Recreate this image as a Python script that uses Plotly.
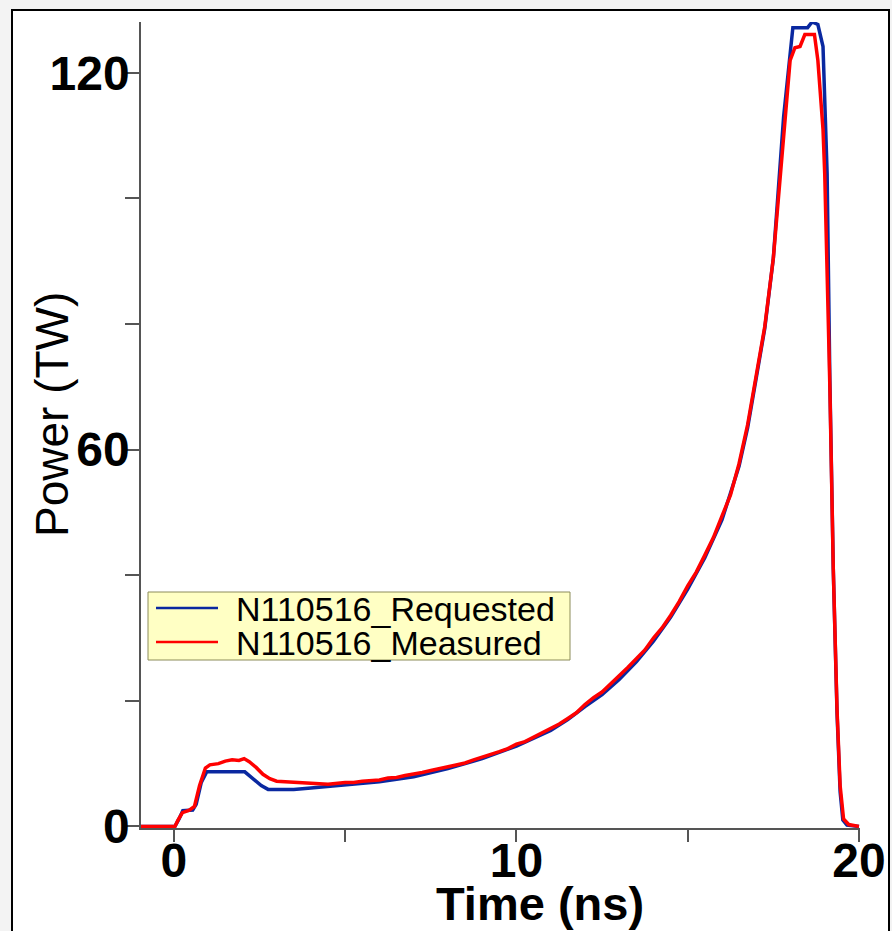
import plotly.graph_objects as go

# Requested pulse (TW vs ns)
req_t = [-1.0, 0.03, 0.15, 0.26, 0.55, 0.65, 0.8, 0.96, 2.07, 2.3, 2.55, 2.75, 3.5,
         4.0, 5.0, 6.0, 7.0, 8.0, 9.0, 10.0, 11.0, 11.5, 12.0, 12.5, 13.0, 13.5, 14.0,
         14.5, 15.0, 15.5, 16.0, 16.5, 16.75, 17.0, 17.25, 17.5, 17.8, 18.07, 18.5,
         18.63, 18.8, 18.95, 19.07, 19.15, 19.25, 19.36, 19.45, 19.53, 19.65, 20.0]
req_p = [0.0, 0.0, 1.2, 2.5, 2.6, 3.5, 7.0, 8.7, 8.7, 7.6, 6.5, 5.9, 5.9,
         6.1, 6.6, 7.1, 7.9, 9.2, 10.8, 12.8, 15.3, 17.0, 19.1, 21.0, 23.4, 26.2, 29.5,
         33.3, 37.8, 42.8, 48.8, 57.4, 63.5, 71.5, 79.3, 90.5, 113.0, 127.2, 127.2,
         128.1, 127.7, 124.2, 104.0, 71.0, 41.0, 18.0, 5.5, 1.0, 0.2, 0.0]

# Measured pulse (TW vs ns)
meas_t = [-1.0, 0.03, 0.12, 0.25, 0.45, 0.6, 0.75, 0.92, 1.05, 1.3, 1.5, 1.7, 1.9,
          2.05, 2.2, 2.4, 2.6, 2.8, 3.0, 3.5, 4.0, 4.5, 5.0, 5.25, 5.5, 5.75, 6.0,
          6.25, 6.5, 6.75, 7.0, 7.25, 7.5, 7.75, 8.0, 8.25, 8.5, 8.75, 9.0, 9.25,
          9.5, 9.75, 10.0, 10.25, 10.5, 10.75, 11.0, 11.25, 11.5, 11.75, 12.0, 12.25,
          12.5, 12.75, 13.0, 13.25, 13.5, 13.75, 14.0, 14.25, 14.5, 14.75, 15.0,
          15.25, 15.5, 15.75, 16.0, 16.25, 16.5, 16.75, 17.0, 17.25, 17.5, 17.75,
          17.99, 18.13, 18.28, 18.42, 18.7, 18.8, 18.95, 19.0, 19.15, 19.25, 19.36,
          19.45, 19.55, 19.7, 20.0]
meas_p = [0.0, 0.0, 1.0, 2.2, 2.6, 3.2, 6.5, 9.3, 9.8, 10.0, 10.4, 10.6, 10.5,
          10.8, 10.3, 9.4, 8.3, 7.6, 7.2, 7.0, 6.8, 6.7, 7.0, 7.0, 7.2, 7.3, 7.4,
          7.7, 7.8, 8.1, 8.3, 8.6, 8.9, 9.2, 9.5, 9.9, 10.1, 10.6, 11.0, 11.4,
          11.9, 12.4, 13.1, 13.5, 14.2, 14.8, 15.6, 16.3, 17.2, 18.1, 19.4, 20.5,
          21.4, 22.7, 23.9, 25.3, 26.7, 28.1, 30.0, 31.6, 33.6, 35.8, 38.3,
          40.5, 43.2, 46.0, 49.4, 52.8, 57.8, 64.0, 71.8, 79.6, 90.5, 107.0,
          122.0, 124.0, 124.2, 126.1, 126.1, 122.0, 111.0, 104.0, 70.0, 41.0, 18.5,
          6.5, 1.2, 0.3, 0.0]

series_names = ["N110516_Requested", "N110516_Measured"]
series_colors = ["rgb(10,40,160)", "#ff0000"]

x_tickvals = [0, 5, 10, 15, 20]
x_ticktext = ["0", "", "10", "", "20"]
y_tickvals = [0, 20, 40, 60, 80, 100, 120]
y_ticktext = ["0", "", "", "60", "", "", "120"]

W, H = 892, 931
L, R, T, B = 141, 32, 22, 103
pw, ph = W - L - R, H - T - B

def px(xp):
    return (xp - L) / pw

def py(yp):
    return (H - B - yp) / ph

fig = go.Figure()
fig.add_trace(go.Scatter(x=req_t, y=req_p, mode="lines", name=series_names[0],
                         line=dict(color=series_colors[0], width=3.5)))
fig.add_trace(go.Scatter(x=meas_t, y=meas_p, mode="lines", name=series_names[1],
                         line=dict(color=series_colors[1], width=3.5)))

axis_font = dict(family="Liberation Sans, Arial", size=48, color="black", weight="bold")
fig.update_xaxes(range=[-0.96, 20.03], tickvals=x_tickvals, ticktext=x_ticktext,
                 ticks="outside", ticklen=12, tickcolor="#555", tickwidth=1.5,
                 showline=True, linecolor="#555", linewidth=1.5, showgrid=False,
                 zeroline=False, tickfont=axis_font, automargin=False,
                 ticklabelstandoff=-22)
fig.update_yaxes(range=[-0.25, 128.1], tickvals=y_tickvals, ticktext=y_ticktext,
                 ticks="outside", ticklen=14, tickcolor="#555", tickwidth=1.5,
                 showline=True, linecolor="#555", linewidth=1.5, showgrid=False,
                 zeroline=False, tickfont=axis_font, automargin=False,
                 ticklabelstandoff=-14)

# page frame
fig.add_shape(type="rect", xref="paper", yref="paper",
              x0=px(12), x1=px(889), y0=py(960), y1=py(10),
              fillcolor="white", line=dict(color="black", width=2), layer="below")

# legend box
fig.add_shape(type="rect", xref="paper", yref="paper",
              x0=px(148), x1=px(570), y0=py(660), y1=py(592),
              fillcolor="#ffffc4", line=dict(color="#8c8c5a", width=1), layer="above")
for i, (nm, col) in enumerate(zip(series_names, series_colors)):
    yy = 608 + i * 34
    fig.add_shape(type="line", xref="paper", yref="paper",
                  x0=px(156), x1=px(218), y0=py(yy), y1=py(yy),
                  line=dict(color=col, width=2.5), layer="above")
    fig.add_annotation(text=nm, xref="paper", yref="paper", x=px(234), y=py(yy + 1),
                       xanchor="left", yanchor="middle", showarrow=False,
                       font=dict(family="Liberation Sans, Arial", size=34, color="black"))

fig.add_annotation(text="Time (ns)", xref="paper", yref="paper", x=px(540), y=py(903),
                   xanchor="center", yanchor="middle", showarrow=False,
                   font=dict(family="Liberation Sans, Arial", size=47, color="black",
                             weight="bold"))
fig.add_annotation(text="Power (TW)", xref="paper", yref="paper", x=px(52), y=py(415),
                   xanchor="center", yanchor="middle", showarrow=False, textangle=-90,
                   font=dict(family="Liberation Sans, Arial", size=46, color="black"))

fig.update_layout(
    width=W, height=H,
    margin=dict(l=L, r=R, t=T, b=B),
    paper_bgcolor="#f3f3f3", plot_bgcolor="rgba(0,0,0,0)",
    showlegend=False,
)

fig.write_html("out.html")
